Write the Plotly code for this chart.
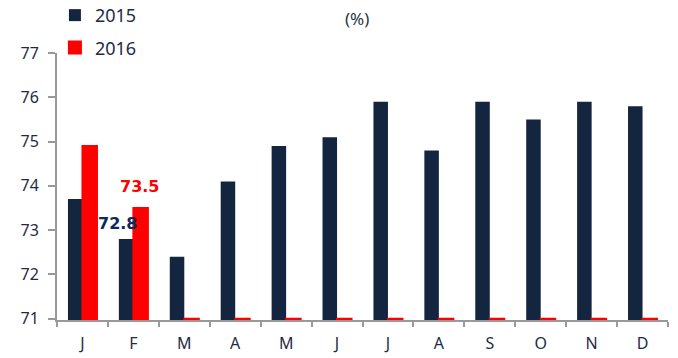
import plotly.graph_objects as go

months = ["J", "F", "M", "A", "M ", "J ", "J  ", "A ", "S", "O", "N", "D"]
month_labels = ["J", "F", "M", "A", "M", "J", "J", "A", "S", "O", "N", "D"]
y2015 = [73.7, 72.8, 72.4, 74.1, 74.9, 75.1, 75.9, 74.8, 75.9, 75.5, 75.9, 75.8]
y2016 = [74.9, 73.5, 0, 0, 0, 0, 0, 0, 0, 0, 0, 0]
y_ticks = [71, 72, 73, 74, 75, 76, 77]

Y_MIN, Y_MAX = 71, 77
NAVY = "#13253f"
RED = "#ff0000"
TEXT = "#1f2b45"

fig = go.Figure()
fig.add_trace(go.Bar(
    x=months, y=y2015, name="2015", legendgroup="a",
    marker=dict(color=NAVY, line=dict(width=0)),
))
# months without data sit on the axis floor as a flat red stroke
fig.add_trace(go.Bar(
    x=months, y=[max(v, Y_MIN) for v in y2016], name="2016", legendgroup="b",
    marker=dict(color=RED, line=dict(color=RED, width=2)),
))

fig.add_annotation(x=months[1], y=y2015[1], text=f"<b>{y2015[1]}</b>",
                   showarrow=False, xshift=-16, yshift=15,
                   font=dict(family="DejaVu Sans", size=16, color="#0d2a5c"))
fig.add_annotation(x=months[1], y=y2016[1], text=f"<b>{y2016[1]}</b>",
                   showarrow=False, xshift=6, yshift=21,
                   font=dict(family="DejaVu Sans", size=16, color=RED))
fig.add_annotation(xref="paper", yref="paper", x=0.491, y=1.0, yshift=35,
                   yanchor="middle", xanchor="center",
                   text="(%)", showarrow=False,
                   font=dict(family="Noto Sans", size=17, color="#2b3548"))

fig.update_layout(
    width=678, height=358,
    margin=dict(l=57, r=10, t=53, b=38, autoexpand=False),
    paper_bgcolor="white", plot_bgcolor="white",
    barmode="group", bargap=0.43, bargroupgap=0,
    font=dict(family="Noto Sans", size=16, color=TEXT),
    showlegend=True,
    legend=dict(xref="container", yref="paper", x=0.081, y=1.21,
                xanchor="left", yanchor="top",
                orientation="v", bgcolor="rgba(0,0,0,0)",
                font=dict(size=18, color=TEXT), tracegroupgap=6,
                traceorder="grouped"),
    xaxis=dict(
        tickmode="array", tickvals=months, ticktext=month_labels,
        showline=True, linecolor="#999999", linewidth=2, layer="below traces",
        ticks="outside", tickson="boundaries", ticklen=5, tickcolor="#999999",
        tickwidth=2, showgrid=False, zeroline=False, ticklabelstandoff=8,
    ),
    yaxis=dict(
        range=[Y_MIN - 0.03, Y_MAX], tickvals=y_ticks,
        showline=True, linecolor="#999999", linewidth=2,
        ticks="outside", ticklen=7, tickcolor="#999999", tickwidth=2,
        showgrid=False, zeroline=False, ticklabelstandoff=6,
    ),
)

fig.write_html("out.html")
